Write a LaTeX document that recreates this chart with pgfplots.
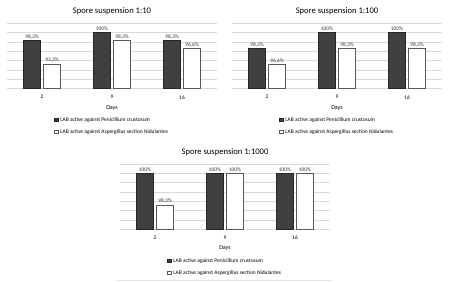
\documentclass[border=0pt]{standalone}
\usepackage{pgfplots}
\pgfplotsset{compat=1.18}
\usepackage{fontspec}
\setmainfont{Carlito}

\definecolor{darkbar}{HTML}{404040}
\definecolor{baredge}{HTML}{262626}
\definecolor{whiteedge}{HTML}{595959}
\definecolor{gridgray}{HTML}{D9D9D9}

% Penicillium crustosum / Aspergillus section Nidulantes, days 2, 9, 16
\pgfplotstableread{
x pen asp
0 98.3 93.3
1 100  98.3
2 98.3 96.6
}\tblA
\pgfplotstableread{
x pen asp
0 98.3 96.6
1 100  98.3
2 100  98.3
}\tblB
\pgfplotstableread{
x pen asp
0 100 98.3
1 100 100
2 100 100
}\tblC

\pgfplotsset{
  sporepanel/.style={
    scale only axis,
    width=210bp, height=65.4bp,
    ybar=3.5bp, bar width=16.5bp,
    xmin=-0.5, xmax=2.5,
    xtick={0,1,2}, xticklabels={2,9,16},
    major tick length=0pt,
    axis line style={draw=none},
    ymajorgrids, major grid style={gridgray, line width=0.5pt},
    yticklabels={},
    /pgf/number format/assume math mode=true,
    xticklabel style={font=\fontsize{5.5}{6}\selectfont, yshift=-3.2bp},
    xlabel={Days},
    xlabel style={font=\fontsize{6}{7}\selectfont, yshift=0.5bp},
    title style={font=\fontsize{8.6}{10}\selectfont, at={(0.5,1)}, anchor=base, yshift=3.4bp},
    nodes near coords={\pgfmathprintnumber[use comma,fixed,precision=1,assume math mode=true]{\pgfplotspointmeta}\%},
    nodes near coords style={font=\fontsize{5.4}{6}\selectfont, text=black!80, inner sep=1.3bp},
    legend cell align=left,
    legend style={draw=none, fill=none, font=\fontsize{5.5}{6}\selectfont,
      anchor=north west, row sep=2.6bp, inner sep=0pt,
      /tikz/every even column/.append style={column sep=0pt}},
    legend image code/.code={\draw[#1, line width=0.5pt] (0bp,-1.7bp) rectangle (3.4bp,1.7bp);},
    clip=false,
  },
  penbar/.style={fill=darkbar, draw=baredge, line width=0.6pt},
  aspbar/.style={fill=white, draw=whiteedge, line width=0.6pt},
}

\begin{document}
\begin{tikzpicture}[x=1bp,y=1bp]
\path (0,0) rectangle (450,281);

% Spore suspension 1:10
\begin{axis}[sporepanel,
  at={(7bp,192.3bp)}, anchor=south west,
  ymin=88, ymax=102, ytick={88,90,...,102},
  title={Spore suspension 1:10},
  legend style={at={(0.225,-0.405)}}]
\addplot[penbar] table[x=x,y=pen] {\tblA};
\addplot[aspbar] table[x=x,y=asp] {\tblA};
\legend{LAB active against Penicillium crustosum, LAB active against Aspergillus section Nidulantes}
\end{axis}

% Spore suspension 1:100
\begin{axis}[sporepanel,
  at={(232bp,192.3bp)}, anchor=south west,
  ymin=94, ymax=101, ytick={94,95,...,101},
  title={Spore suspension 1:100},
  legend style={at={(0.225,-0.405)}}]
\addplot[penbar] table[x=x,y=pen] {\tblB};
\addplot[aspbar] table[x=x,y=asp] {\tblB};
\legend{LAB active against Penicillium crustosum, LAB active against Aspergillus section Nidulantes}
\end{axis}

% Spore suspension 1:1000
\begin{axis}[sporepanel,
  at={(120bp,51.7bp)}, anchor=south west,
  ymin=97, ymax=100.5, ytick={97,97.5,...,100.5},
  title={Spore suspension 1:1000},
  legend style={at={(0.225,-0.41)}}]
\addplot[penbar] table[x=x,y=pen] {\tblC};
\addplot[aspbar] table[x=x,y=asp] {\tblC};
\legend{LAB active against Penicillium crustosum, LAB active against Aspergillus section Nidulantes}
\end{axis}

\draw[gridgray!70, line width=0.4pt] (117,0.6) -- (333,0.6);
\end{tikzpicture}
\end{document}
